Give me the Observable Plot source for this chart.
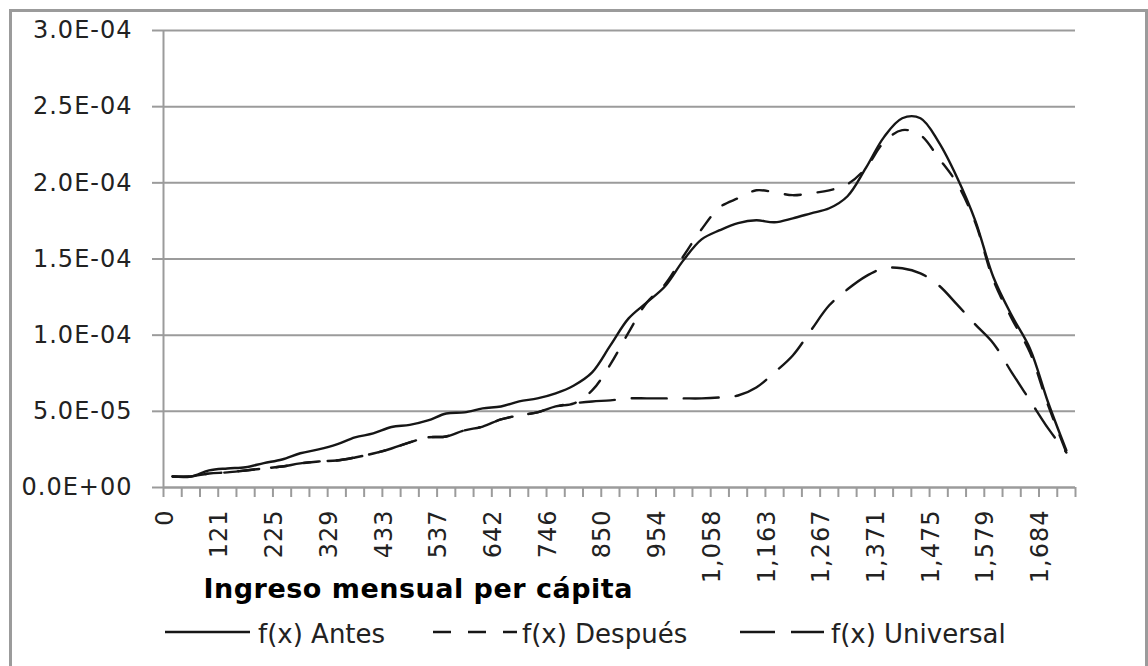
<!DOCTYPE html>
<html><head><meta charset="utf-8">
<script src="https://cdn.jsdelivr.net/npm/d3@7"></script>
<script src="https://cdn.jsdelivr.net/npm/@observablehq/plot@0.6"></script>
<style>
html,body{margin:0;padding:0;background:#fff;overflow:hidden;}
#wrap{position:relative;width:1148px;height:666px;overflow:hidden;font-family:"DejaVu Sans";}
#frame{position:absolute;left:9px;top:9px;width:1133px;height:720px;border:3px solid #9b9b9b;pointer-events:none;}
#chart{position:absolute;left:0;top:0;}
#legend{position:absolute;left:0;top:610px;width:1148px;height:56px;}
</style></head>
<body><div id="wrap"><div id="chart"></div><div id="legend"></div><div id="frame"></div></div>
<script>
// Income categories (monthly per-capita income)
const incomes = [0, 52, 86, 121, 156, 190, 225, 260, 295, 329, 364, 399, 433, 468, 503, 537, 572, 607, 642, 676,
  711, 746, 781, 815, 850, 885, 919, 954, 989, 1024, 1058, 1093, 1128, 1163, 1197, 1232, 1267, 1302, 1336, 1371,
  1406, 1440, 1475, 1510, 1545, 1579, 1614, 1649, 1684, 1718];
const xTickLabels = ["0", "121", "225", "329", "433", "537", "642", "746", "850", "954",
  "1,058", "1,163", "1,267", "1,371", "1,475", "1,579", "1,684"];

// Density values
const antes = [7.2e-6, 7.2e-6, 1.12e-5, 1.25e-5, 1.33e-5, 1.60e-5, 1.84e-5, 2.25e-5, 2.50e-5, 2.83e-5,
  3.29e-5, 3.55e-5, 3.97e-5, 4.11e-5, 4.40e-5, 4.86e-5, 4.93e-5, 5.19e-5, 5.32e-5, 5.65e-5,
  5.85e-5, 6.18e-5, 6.70e-5, 7.56e-5, 9.33e-5, 1.110e-4, 1.215e-4, 1.321e-4, 1.491e-4, 1.629e-4,
  1.689e-4, 1.735e-4, 1.754e-4, 1.741e-4, 1.767e-4, 1.800e-4, 1.833e-4, 1.912e-4, 2.096e-4, 2.300e-4,
  2.424e-4, 2.424e-4, 2.267e-4, 2.037e-4, 1.754e-4, 1.380e-4, 1.130e-4, 9.13e-5, 5.58e-5, 2.43e-5];
const despues = [7.2e-6, 7.2e-6, 9.2e-6, 9.9e-6, 1.12e-5, 1.25e-5, 1.38e-5, 1.58e-5, 1.71e-5, 1.77e-5,
  1.97e-5, 2.23e-5, 2.56e-5, 2.96e-5, 3.29e-5, 3.35e-5, 3.75e-5, 4.00e-5, 4.47e-5, 4.73e-5,
  4.93e-5, 5.32e-5, 5.52e-5, 6.37e-5, 8.08e-5, 1.018e-4, 1.215e-4, 1.334e-4, 1.518e-4, 1.695e-4,
  1.840e-4, 1.899e-4, 1.951e-4, 1.938e-4, 1.919e-4, 1.932e-4, 1.951e-4, 1.991e-4, 2.096e-4, 2.267e-4,
  2.346e-4, 2.313e-4, 2.162e-4, 1.997e-4, 1.741e-4, 1.360e-4, 1.110e-4, 8.87e-5, 5.39e-5, 2.30e-5];
const universal = [7.2e-6, 7.2e-6, 9.2e-6, 9.9e-6, 1.12e-5, 1.25e-5, 1.38e-5, 1.58e-5, 1.71e-5, 1.77e-5,
  1.97e-5, 2.23e-5, 2.56e-5, 2.96e-5, 3.29e-5, 3.35e-5, 3.75e-5, 4.00e-5, 4.47e-5, 4.73e-5,
  4.93e-5, 5.32e-5, 5.52e-5, 5.65e-5, 5.72e-5, 5.85e-5, 5.85e-5, 5.85e-5, 5.85e-5, 5.85e-5,
  5.91e-5, 6.04e-5, 6.57e-5, 7.56e-5, 8.67e-5, 1.032e-4, 1.196e-4, 1.301e-4, 1.386e-4, 1.439e-4,
  1.439e-4, 1.406e-4, 1.327e-4, 1.202e-4, 1.071e-4, 9.46e-5, 7.56e-5, 5.72e-5, 3.88e-5, 2.30e-5];

const yTicks = [0, 5e-5, 1e-4, 1.5e-4, 2e-4, 2.5e-4, 3e-4];
const yTickLabels = ["0.0E+00", "5.0E-05", "1.0E-04", "1.5E-04", "2.0E-04", "2.5E-04", "3.0E-04"];
const seriesNames = ["f(x) Antes", "f(x) Después", "f(x) Universal"];
const xTitle = "Ingreso mensual per cápita";

const seriesValues = [antes, despues, universal];
const dashes = ["none", "16,17", "35,17"];
const rows = [];
seriesValues.forEach((vals, s) => vals.forEach((v, k) => rows.push({k, income: incomes[k], serie: seriesNames[s], value: v})));
const labelRows = incomes.map((v, k) => ({k, label: d3.format(",")(v)})).filter(d => xTickLabels.includes(d.label));
const boundaries = d3.range(incomes.length + 1).map(i => i - 0.5);

const gray = "#9b9b9b";
const chart = Plot.plot({
  width: 1148, height: 610,
  marginLeft: 163, marginRight: 73, marginTop: 30, marginBottom: 123,
  x: {type: "linear", domain: [-0.5, incomes.length - 0.5]},
  y: {domain: [0, 3e-4]},
  style: {fontFamily: "DejaVu Sans", fontSize: "24px", background: "transparent", color: "#222", overflow: "visible"},
  marks: [
    Plot.gridY(yTicks, {stroke: gray, strokeOpacity: 1, strokeWidth: 2}),
    Plot.axisY(yTicks, {tickSize: 11, tickPadding: 20, tickFormat: (d, i) => yTickLabels[i], stroke: gray, strokeWidth: 2, fill: "#222", label: null}),
    Plot.ruleX([-0.5], {stroke: gray, strokeWidth: 2}),
    Plot.ruleY([0], {stroke: gray, strokeWidth: 2}),
    Plot.axisX(boundaries, {tickSize: 10, tickFormat: () => "", stroke: gray, strokeWidth: 2, label: null}),
    Plot.text(labelRows, {x: "k", text: "label", frameAnchor: "bottom", rotate: -90, textAnchor: "end", dy: 22, fill: "#222"}),
    Plot.text([xTitle], {frameAnchor: "bottom-left", textAnchor: "start", lineAnchor: "bottom", dx: 40, dy: 110, fontSize: 27, fontWeight: "bold", fill: "#000"}),
    ...seriesNames.map((name, s) => Plot.line(rows.filter(d => d.serie === name), {
      x: "k", y: "value", curve: "catmull-rom", stroke: "#161616", strokeWidth: 2.4, strokeDasharray: dashes[s], strokeLinejoin: "round"
    }))
  ]
});
d3.select(chart).selectAll("text").style("letter-spacing", "1px");
d3.select(chart).selectAll("text").filter(function(){ return this.textContent === xTitle; }).style("letter-spacing", "0.5px");
document.getElementById("chart").appendChild(chart);

// Legend below the chart
const lg = d3.select("#legend").append("svg").attr("width", 1148).attr("height", 56)
  .style("font-family", "DejaVu Sans").style("font-size", "26px");
const items = [
  {x1: 165, x2: 250, tx: 258},
  {x1: 433, x2: 517, tx: 522},
  {x1: 740, x2: 824, tx: 831}
];
items.forEach((it, s) => {
  lg.append("line").attr("x1", it.x1).attr("x2", it.x2).attr("y1", 22).attr("y2", 22)
    .attr("stroke", "#161616").attr("stroke-width", 2.4)
    .attr("stroke-dasharray", dashes[s] === "none" ? null : (s === 1 ? "18,17" : "35,16"));
  lg.append("text").attr("x", it.tx).attr("y", 33).attr("fill", "#222").text(seriesNames[s]);
});
</script>
</body></html>
